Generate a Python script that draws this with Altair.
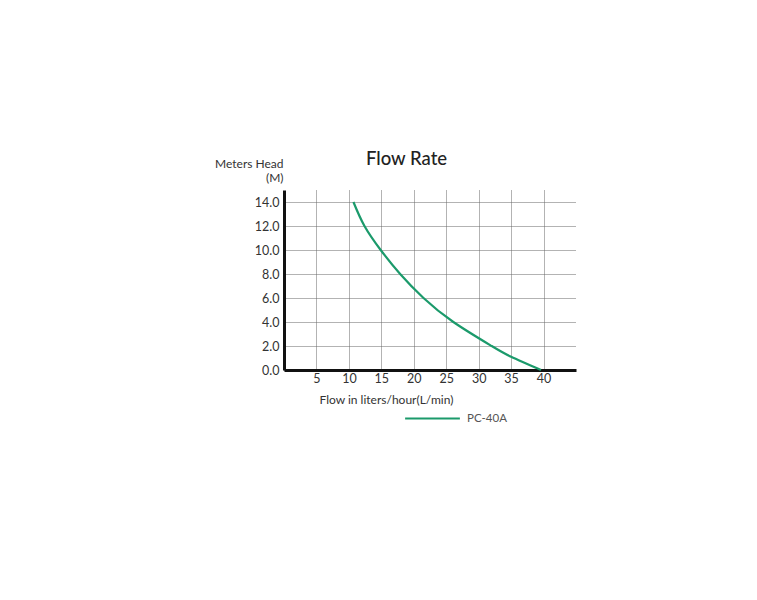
import altair as alt
import pandas as pd

flow = [10.7, 12.4, 14.9, 17.9, 21.5, 26.1, 32.0, 35.0, 39.6]
head = [14.0, 12.0, 10.0, 8.0, 6.0, 4.0, 2.0, 1.1, 0.0]
series = ["PC-40A"] * len(flow)
x_ticks = [5, 10, 15, 20, 25, 30, 35, 40]
y_ticks = [0, 2, 4, 6, 8, 10, 12, 14]

df = pd.DataFrame({"flow": flow, "head": head, "model": series})

FONT = "Lato"
TXT = "#333333"

chart = alt.Chart(df).mark_line(strokeWidth=2.2, interpolate="natural").encode(
    x=alt.X("flow:Q",
            scale=alt.Scale(domain=[0, 45], nice=False, zero=True),
            axis=alt.Axis(values=x_ticks, title="Flow in liters/hour(L/min)",
                          titleAnchor="start", titleAlign="left", titleX=35, titleY=29,
                          titleBaseline="middle", titleFontSize=12, titleFontWeight="normal",
                          titleColor=TXT, titleFont=FONT,
                          labelFontSize=12.5, labelColor=TXT, labelFont=FONT, labelPadding=2,
                          ticks=False, domainColor="#111111", domainWidth=3,
                          grid=True, gridColor="#666666", gridDash=[1, 1], gridWidth=1)),
    y=alt.Y("head:Q",
            scale=alt.Scale(domain=[0, 15], nice=False),
            axis=alt.Axis(values=y_ticks, format=".1f", title=["Meters Head", "(M)"],
                          titleAngle=0, titleAlign="right", titleAnchor="start",
                          titleBaseline="bottom", titleX=-1, titleY=-20,
                          titleLineHeight=14, titleFontSize=12, titleFontWeight="normal",
                          titleColor=TXT, titleFont=FONT,
                          labelFontSize=12.5, labelColor=TXT, labelFont=FONT, labelPadding=5,
                          ticks=False, domainColor="#111111", domainWidth=3,
                          grid=True, gridColor="#666666", gridDash=[1, 1], gridWidth=1)),
    color=alt.Color("model:N",
                    scale=alt.Scale(range=["#1b9a6b"]),
                    legend=alt.Legend(title=None, orient="none", legendX=120, legendY=200,
                                      symbolType="stroke", symbolSize=3000, symbolStrokeWidth=2,
                                      labelFontSize=11.5, labelColor="#555555", labelFont=FONT,
                                      labelOffset=6)),
).properties(
    width=292, height=180,
    title=alt.TitleParams("Flow Rate", anchor="start", frame="group", dx=82, offset=-11,
                          fontSize=18.5, fontWeight=500, font=FONT, color="#222222"),
    autosize=alt.AutoSizeParams(type="none"),
    padding={"left": 284, "top": 190, "right": 181, "bottom": 230},
    background="white",
).configure_view(stroke=None)

chart.save("out.html", embed_options={"renderer": "svg", "actions": False})
